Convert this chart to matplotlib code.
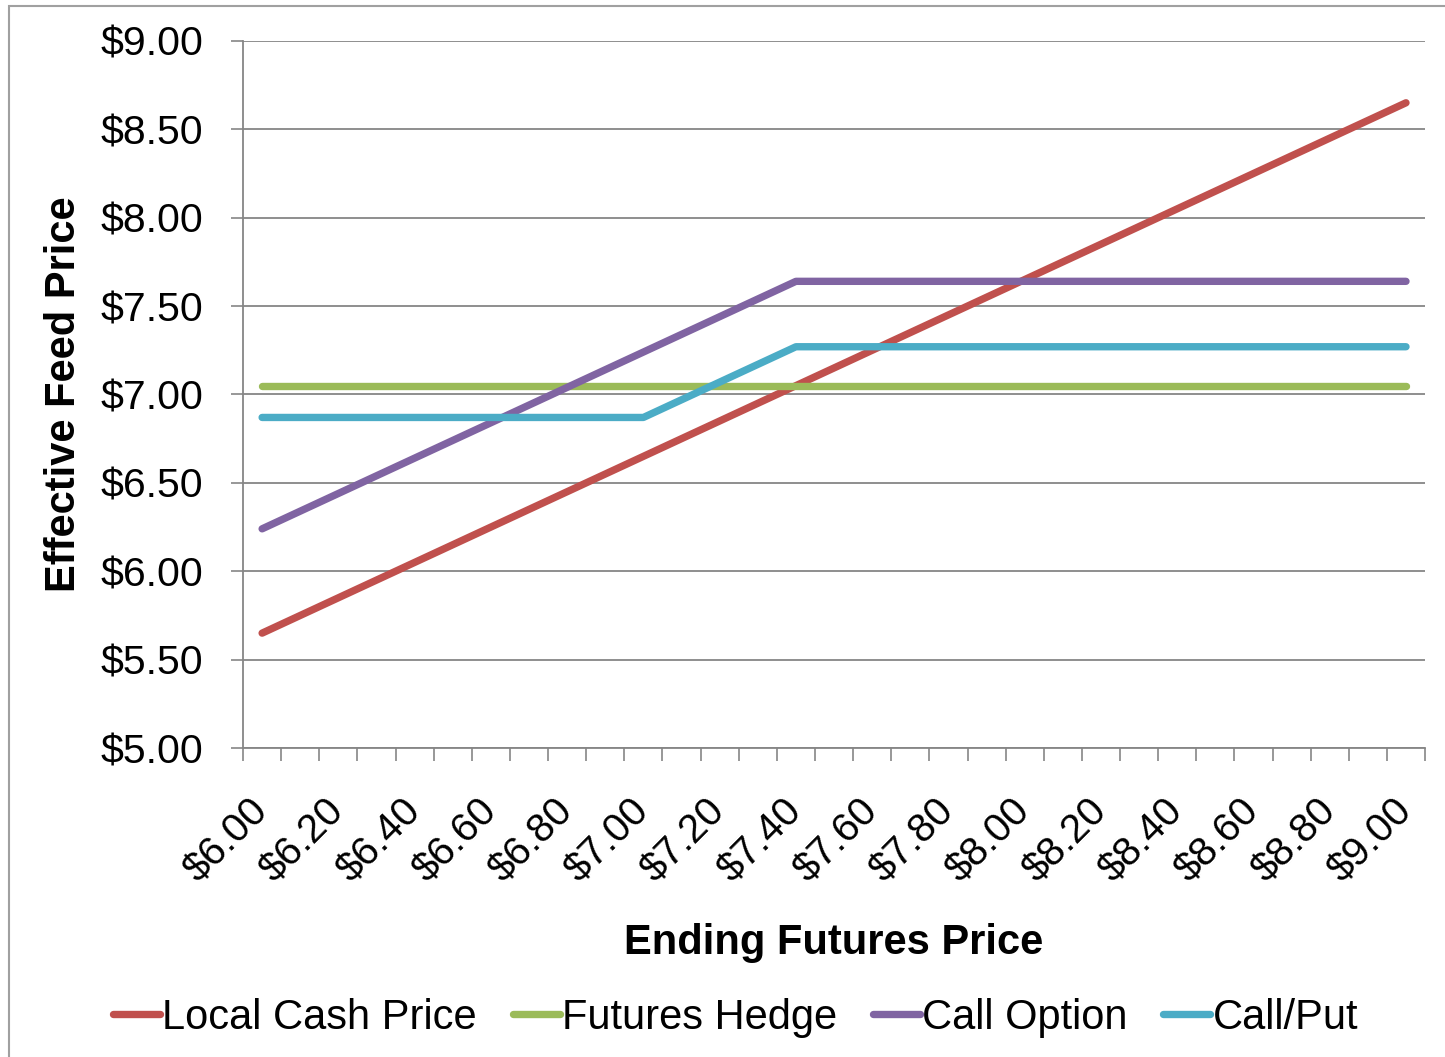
import matplotlib.pyplot as plt
import matplotlib.patches as patches

# x categories (ending futures price)
futures_labels = ['$6.00', '$6.10', '$6.20', '$6.30', '$6.40', '$6.50', '$6.60', '$6.70',
                  '$6.80', '$6.90', '$7.00', '$7.10', '$7.20', '$7.30', '$7.40', '$7.50',
                  '$7.60', '$7.70', '$7.80', '$7.90', '$8.00', '$8.10', '$8.20', '$8.30',
                  '$8.40', '$8.50', '$8.60', '$8.70', '$8.80', '$8.90', '$9.00']

# effective feed price per strategy
local_cash = [5.65, 5.75, 5.85, 5.95, 6.05, 6.15, 6.25, 6.35, 6.45, 6.55, 6.65, 6.75,
              6.85, 6.95, 7.05, 7.15, 7.25, 7.35, 7.45, 7.55, 7.65, 7.75, 7.85, 7.95,
              8.05, 8.15, 8.25, 8.35, 8.45, 8.55, 8.65]
futures_hedge = [7.05, 7.05, 7.05, 7.05, 7.05, 7.05, 7.05, 7.05, 7.05, 7.05, 7.05, 7.05,
                 7.05, 7.05, 7.05, 7.05, 7.05, 7.05, 7.05, 7.05, 7.05, 7.05, 7.05, 7.05,
                 7.05, 7.05, 7.05, 7.05, 7.05, 7.05, 7.05]
call_option = [6.24, 6.34, 6.44, 6.54, 6.64, 6.74, 6.84, 6.94, 7.04, 7.14, 7.24, 7.34,
               7.44, 7.54, 7.64, 7.64, 7.64, 7.64, 7.64, 7.64, 7.64, 7.64, 7.64, 7.64,
               7.64, 7.64, 7.64, 7.64, 7.64, 7.64, 7.64]
call_put = [6.87, 6.87, 6.87, 6.87, 6.87, 6.87, 6.87, 6.87, 6.87, 6.87, 6.87, 6.97,
            7.07, 7.17, 7.27, 7.27, 7.27, 7.27, 7.27, 7.27, 7.27, 7.27, 7.27, 7.27,
            7.27, 7.27, 7.27, 7.27, 7.27, 7.27, 7.27]

y_ticks = [5.0, 5.5, 6.0, 6.5, 7.0, 7.5, 8.0, 8.5, 9.0]

plt.rcParams['font.family'] = ['Liberation Sans', 'DejaVu Sans']

fig = plt.figure(figsize=(14.45, 10.57), dpi=100)
ax = fig.add_axes([0.1682, 0.2923, 0.818, 0.669])

x = list(range(len(futures_labels)))
series = [('Local Cash Price', local_cash, '#C0504D'),
          ('Futures Hedge', futures_hedge, '#9BBB59'),
          ('Call Option', call_option, '#8064A2'),
          ('Call/Put', call_put, '#4BACC6')]
for name, vals, col in series:
    ax.plot(x, vals, color=col, lw=5.3, label=name, solid_capstyle='round', zorder=3)

# y axis
ax.set_ylim(5.0, 9.0)
ax.set_yticks(y_ticks)
ax.set_yticklabels(['$%.2f' % v for v in y_ticks], fontsize=29.5)
ax.tick_params(axis='y', length=8.5, width=1.2, color='#868686', pad=20)
ax.grid(axis='y', color='#868686', lw=1.3, zorder=0)
ax.set_ylabel('Effective Feed Price', fontsize=30, fontweight='bold')
ax.yaxis.set_label_coords(-0.1345, 0.5)

# x axis: category ticks between points, labels on every second point
ax.set_xlim(-0.5, len(x) - 0.5)
ax.set_xticks(x[::2])
ax.set_xticklabels(futures_labels[::2], rotation=45, ha='right', va='center',
                   rotation_mode='anchor', fontsize=29)
ax.set_xticks([i - 0.5 for i in range(len(x) + 1)], minor=True)
ax.tick_params(axis='x', which='major', length=0, pad=41)
ax.tick_params(axis='x', which='minor', length=9, width=1.2, color='#868686')
ax.set_xlabel('Ending Futures Price', fontsize=30, fontweight='bold')
ax.xaxis.set_label_coords(0.5, -0.247)

for side in ['top', 'right']:
    ax.spines[side].set_visible(False)
for side in ['left', 'bottom']:
    ax.spines[side].set_color('#868686')
    ax.spines[side].set_linewidth(1.3)

leg = fig.legend(loc='center', bbox_to_anchor=(0.509, 0.037), ncol=4, frameon=False,
                 fontsize=30, handlelength=1.13, handletextpad=0.05, columnspacing=0.86)

# outer chart border
fig.patches.append(patches.Rectangle((9 / 1445, -0.05), 1.2, 1.05 - 6 / 1057,
                                     transform=fig.transFigure, fill=False,
                                     edgecolor='#A0A0A0', lw=1.5))

fig.savefig('out.png', dpi=100)
